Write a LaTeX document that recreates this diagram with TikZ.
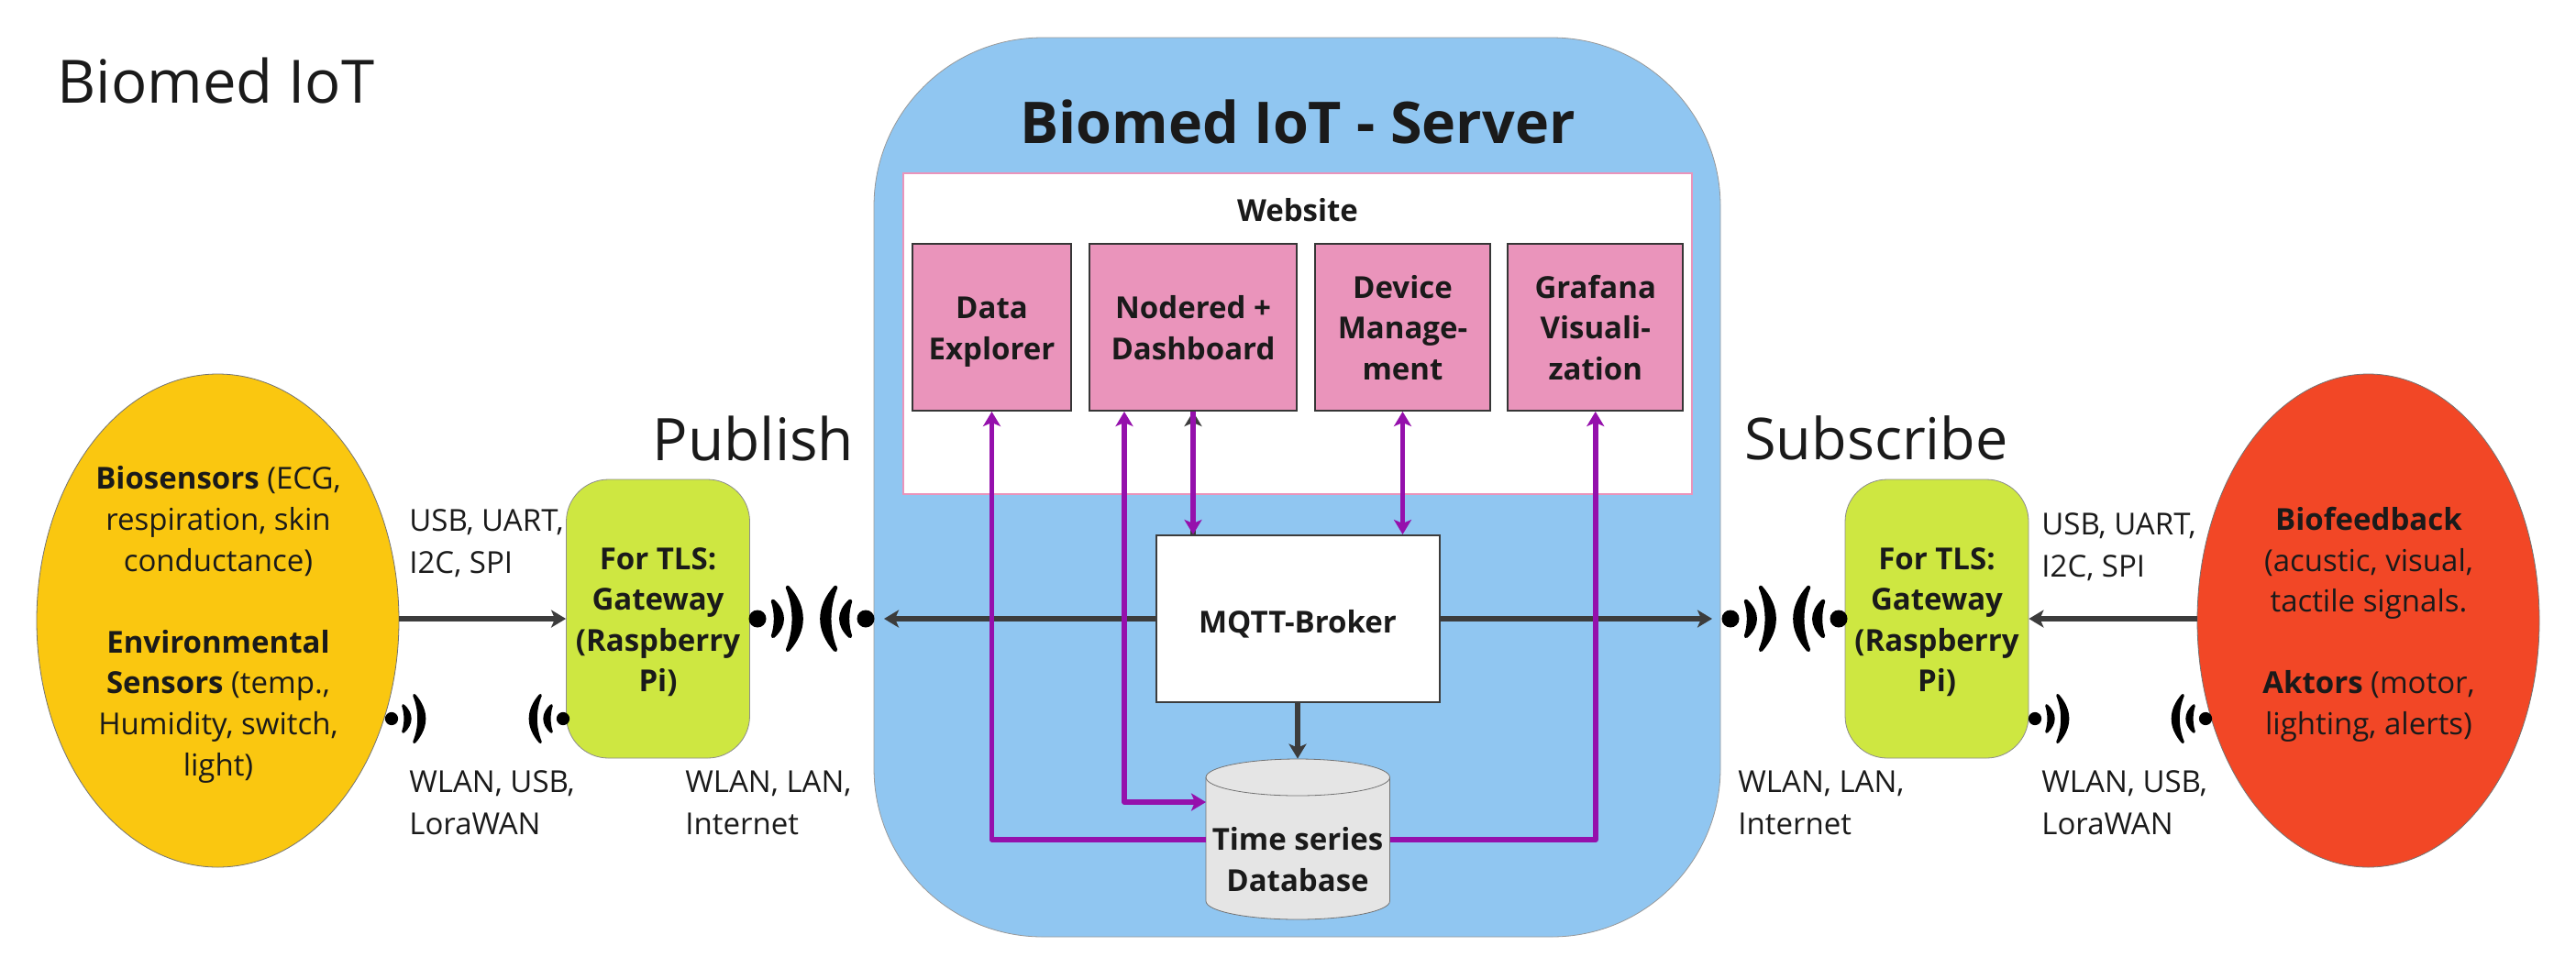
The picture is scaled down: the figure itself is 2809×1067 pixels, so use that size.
\documentclass[tikz,border=0pt]{standalone}
\usepackage{fontspec}
\setmainfont{Open Sans}
\usetikzlibrary{shapes.geometric,arrows.meta,calc}
\definecolor{srvblue}{HTML}{90C6F1}
\definecolor{yel}{HTML}{FAC710}
\definecolor{redo}{HTML}{F24726}
\definecolor{lime}{HTML}{CEE741}
\definecolor{pinkb}{HTML}{EA94BB}
\definecolor{purp}{HTML}{9510AC}
\definecolor{dk}{HTML}{3C3C3C}
\definecolor{txt}{HTML}{1A1A1A}
\newcommand{\stt}{\rule{0pt}{22.6pt}}
\newcommand{\stm}{\rule{0pt}{19.6pt}}
\newcommand{\stb}{\rule[-6.7pt]{0pt}{6.7pt}}
\tikzset{
  body/.style={text=txt,inner sep=0pt,align=center,font=\fontsize{16.5}{22.3}\selectfont},
  bodyb/.style={body,font=\fontsize{16.5}{22.3}\selectfont\bfseries},
  lab/.style={text=txt,inner sep=0pt,align=left,anchor=west,font=\fontsize{16.5}{23}\selectfont},
  elli/.style={ellipse,draw=black!55,line width=.4pt,inner sep=0pt,minimum width=#1},
  gate/.style={rectangle,rounded corners=23pt,draw=black!45,line width=.4pt,fill=lime,minimum width=100pt,minimum height=152pt,bodyb},
  webbox/.style={rectangle,draw=dk!90!black,line width=1pt,fill=pinkb,minimum height=91pt,bodyb},
  darrow/.style={draw=dk,line width=2.75pt,-{Stealth[length=8pt,width=9.5pt,inset=2pt]}},
  parrow/.style={draw=purp,line width=2.75pt,line join=round,-{Stealth[length=8pt,width=9.5pt,inset=2pt]}},
  pboth/.style={draw=purp,line width=2.75pt,line join=round,{Stealth[length=8pt,width=9.5pt,inset=2pt]}-{Stealth[length=8pt,width=9.5pt,inset=2pt]}},
  wave/.style={fill=black,draw=black,line join=round,line cap=round,line width=#1},
}
\newcommand{\wifi}[5]{%
  \begin{scope}[shift={(#1,#2)},xscale=#3,yscale=#4]
    \fill[black] (0,0) circle (9.5);
    \path[wave=#5] (17,-19) .. controls (30,-7) and (30,7) .. (17,19) .. controls (21,7) and (21,-7) .. (17,-19);
    \path[wave=#5] (33,-34) .. controls (52.5,-12) and (52.5,12) .. (33,34) .. controls (42,12) and (42,-12) .. (33,-34);
  \end{scope}}
\begin{document}
\begin{tikzpicture}[x=0.5pt,y=-0.5pt]
\useasboundingbox (0,0) rectangle (2809,1067);
\fill[white] (0,0) rectangle (2809,1067);
% server
\node[rectangle,rounded corners=92pt,draw=black!40,line width=.4pt,fill=srvblue,minimum width=461.5pt,minimum height=490.5pt,inner sep=0pt] (server) at (1414.5,531.5) {};
\node[text=txt,inner sep=0pt,font=\fontsize{31.4}{36}\selectfont\bfseries] (servertitle) at (1415,133) {Biomed IoT - Server};
\node[rectangle,draw=pinkb,line width=1pt,fill=white,minimum width=430pt,minimum height=175pt,inner sep=0pt] (website) at (1415,364) {};
\node[text=txt,inner sep=0pt,font=\fontsize{16.5}{22}\selectfont\bfseries] (websitetitle) at (1415,229) {Website};
\node[webbox,minimum width=86.5pt] (data) at (1081.5,357) {\stm Data\\Explorer\stb};
\node[webbox,minimum width=113pt] (nodered) at (1301,357) {\stm Nodered +\\Dashboard\stb};
\node[webbox,minimum width=95.5pt] (device) at (1529.5,357) {\stm Device\\Manage-\\ment\stb};
\node[webbox,minimum width=95.5pt] (grafana) at (1739.75,357) {\stm Grafana\\Visuali-\\zation\stb};
% broker
\node[rectangle,draw=dk,line width=1pt,fill=white,minimum width=154.5pt,minimum height=91pt,bodyb] (broker) at (1415,675) {\stt MQTT-Broker\stb};
% tips on the server edge
\coordinate (tipL) at (964,675);
\coordinate (tipR) at (1867,675);
\draw[darrow] (broker.west) -- (tipL);
\draw[darrow] (broker.east) -- (tipR);
% database
\node[rectangle,inner sep=0pt,minimum width=100.5pt,minimum height=87.5pt] (db) at (1415,915.5) {};
\path[draw=black!55,line width=.4pt,fill=black!10] (1315,848) .. controls (1315,837) and (1360,828) .. (1415,828) .. controls (1470,828) and (1515.5,837) .. (1515.5,848) -- (1515.5,983) .. controls (1515.5,994) and (1470,1003) .. (1415,1003) .. controls (1360,1003) and (1315,994) .. (1315,983) -- cycle;
\path[draw=black!55,line width=.4pt] (1315,848) .. controls (1315,859) and (1360,868) .. (1415,868) .. controls (1470,868) and (1515.5,859) .. (1515.5,848);
\draw[darrow] (broker.south) -- (db.north);
\coordinate (dbL) at (1315,916);
\coordinate (dbR) at (1515.5,916);
\coordinate (dbIn) at (1315,875);
\coordinate (noL) at ($(nodered.south)+(-75,0)$);
\draw[parrow] (dbL) -| (data.south);
\draw[parrow] (dbR) -| (grafana.south);
\draw[pboth] (noL) |- (dbIn);
\draw[darrow] (broker.north -| nodered.south) -- (nodered.south);
\draw[parrow] (nodered.south) -- (broker.north -| nodered.south);
\draw[pboth] (device.south) -- (broker.north -| device.south);
\node[bodyb] (dbtext) at (1415,937) {\stm Time series\\Database\stb};
% left side
\node[elli=197.5pt,fill=yel,minimum height=269pt] (sensors) at (237.5,677) {};
\node[body] (sensorstext) at (238,677) {\stm\textbf{Biosensors} (ECG,\\respiration, skin\\conductance)\\[22.3pt]\textbf{Environmental}\\\textbf{Sensors} (temp.,\\Humidity, switch,\\light)\stb};
\node[gate] (gwL) at (717.5,675) {\stm For TLS:\\Gateway\\(Raspberry\\Pi)\stb};
\draw[darrow] (gwL.west -| sensors.east) -- (gwL.west);
% right side
\node[elli=186.5pt,fill=redo,minimum height=269pt] (actors) at (2582.5,677) {};
\node[body] (actorstext) at (2583,677) {\stm\textbf{Biofeedback}\\(acustic, visual,\\tactile signals.\\[22.3pt]\textbf{Aktors} (motor,\\lighting, alerts)\stb};
\node[gate] (gwR) at (2112,675) {\stm For TLS:\\Gateway\\(Raspberry\\Pi)\stb};
\draw[darrow] (gwR.east -| actors.west) -- (gwR.east);
% wireless
\wifi{826}{675}{1}{1}{2.2pt}
\wifi{944}{675}{-1}{1}{2.2pt}
\wifi{1887}{675}{1}{1}{2.2pt}
\wifi{2005}{675}{-1}{1}{2.2pt}
\wifi{427}{784}{.75}{.75}{1.6pt}
\wifi{614}{784}{-.75}{.75}{1.6pt}
\wifi{2219}{784}{.75}{.75}{1.6pt}
\wifi{2405}{784}{-.75}{.75}{1.6pt}
% labels
\node[lab] (l1) at (446,590) {\stm USB, UART,\\I2C, SPI\stb};
\node[lab] (l2) at (446,875) {\stm WLAN, USB,\\LoraWAN\stb};
\node[lab] (l3) at (747,875) {\stm WLAN, LAN,\\Internet\stb};
\node[lab] (l4) at (1895,875) {\stm WLAN, LAN,\\Internet\stb};
\node[lab] (l5) at (2226,594) {\stm USB, UART,\\I2C, SPI\stb};
\node[lab] (l6) at (2226,875) {\stm WLAN, USB,\\LoraWAN\stb};
% titles
\node[text=txt,inner sep=0pt,anchor=west,font=\fontsize{32.6}{38}\selectfont] (title) at (62,88) {Biomed IoT};
\node[text=txt,inner sep=0pt,font=\fontsize{32}{38}\selectfont] (pub) at (821.5,478) {Publish};
\node[text=txt,inner sep=0pt,font=\fontsize{31.5}{38}\selectfont] (sub) at (2046,478) {Subscribe};
\end{tikzpicture}
\end{document}
